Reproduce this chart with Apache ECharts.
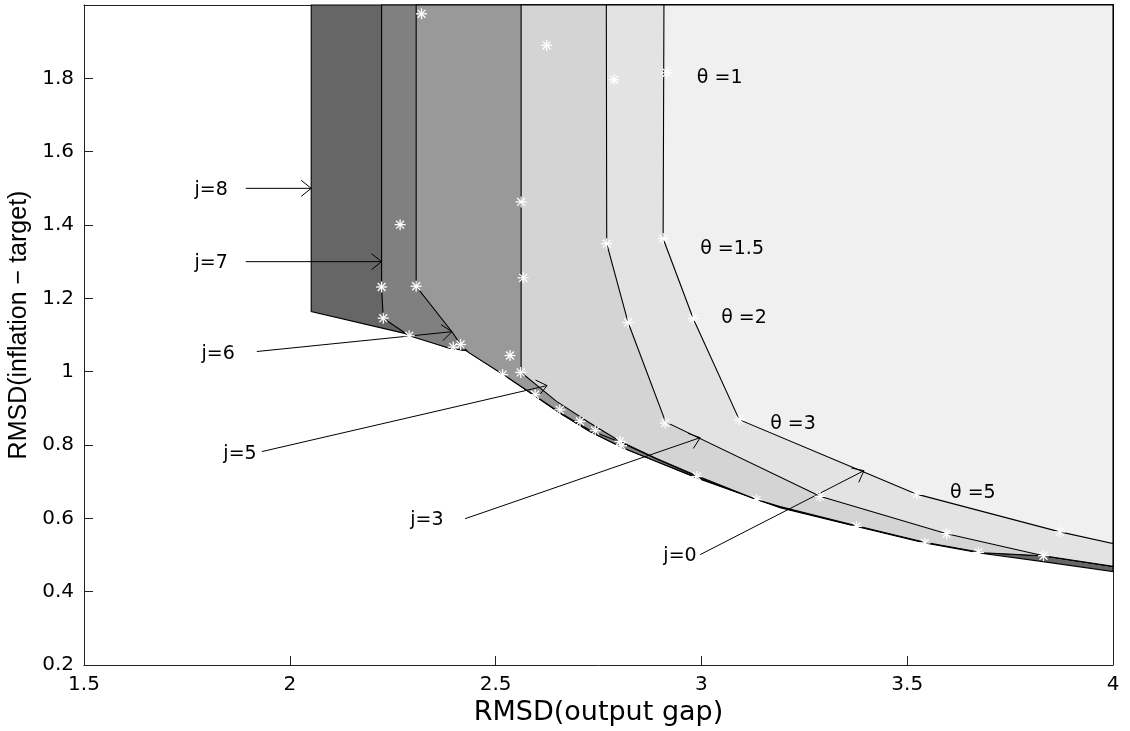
<!DOCTYPE html>
<html>
<head>
<meta charset="utf-8">
<script src="https://cdn.jsdelivr.net/npm/echarts@6/dist/echarts.min.js"></script>
<style>
  html, body { margin: 0; background: #fff; }
  #chart { width: 1130px; height: 731px; }
</style>
</head>
<body>
<div id="chart"></div>
<script>
// boundary of each shaded region: left edge from the top, then down along its curve to the right edge
const regionJ8 = [[2.052, 2.0], [2.052, 1.164], [2.292, 1.101], [2.384, 1.065], [2.430, 1.057], [2.519, 0.992], [2.592, 0.937], [2.656, 0.887], [2.729, 0.837], [2.810, 0.792], [2.891, 0.755], [2.989, 0.710], [3.191, 0.629], [3.377, 0.578], [3.543, 0.533], [3.684, 0.504], [3.830, 0.482], [4.0, 0.455]];
const regionJ7 = [[2.223, 2.0], [2.223, 1.231], [2.227, 1.146], [2.290, 1.098], [2.384, 1.065], [2.430, 1.057], [2.519, 0.992], [2.592, 0.937], [2.656, 0.887], [2.729, 0.837], [2.810, 0.792], [2.891, 0.755], [2.989, 0.711], [3.191, 0.630], [3.377, 0.579], [3.543, 0.534], [3.684, 0.506], [3.830, 0.498], [4.0, 0.469]];
const regionJ6 = [[2.307, 2.0], [2.307, 1.233], [2.394, 1.109], [2.415, 1.074], [2.435, 1.052], [2.519, 0.992], [2.592, 0.937], [2.656, 0.889], [2.729, 0.840], [2.802, 0.808], [2.891, 0.762], [2.989, 0.714], [3.191, 0.631], [3.377, 0.580], [3.543, 0.535], [3.684, 0.506], [3.830, 0.498], [4.0, 0.469]];
const regionJ5 = [[2.562, 2.0], [2.562, 0.998], [2.648, 0.919], [2.729, 0.860], [2.802, 0.810], [2.891, 0.763], [2.989, 0.716], [3.134, 0.651], [3.191, 0.632], [3.377, 0.580], [3.543, 0.535], [3.684, 0.506], [3.830, 0.498], [4.0, 0.469]];
const regionJ3 = [[2.769, 2.0], [2.770, 1.349], [2.822, 1.134], [2.913, 0.863], [3.288, 0.660], [3.596, 0.558], [3.831, 0.498], [4.0, 0.469]];
const regionJ0 = [[2.909, 2.0], [2.907, 1.363], [2.980, 1.145], [3.092, 0.869], [3.393, 0.727], [3.523, 0.666], [3.871, 0.563], [4.0, 0.531]];
const regionColors = ['#666666', '#808080', '#999999', '#d4d4d4', '#e3e3e3', '#f0f0f0'];

// simulated points (white asterisks)
const stars = [
  [2.320, 1.976], [2.624, 1.890], [2.788, 1.796], [2.916, 1.815], [2.562, 1.463], [2.268, 1.401],
  [2.567, 1.256], [2.223, 1.231], [2.307, 1.233], [2.227, 1.146], [2.290, 1.098], [2.415, 1.074],
  [2.397, 1.067], [2.535, 1.044], [2.561, 0.998], [2.517, 0.992], [2.596, 0.937], [2.656, 0.896],
  [2.705, 0.864], [2.742, 0.839], [2.802, 0.810], [2.806, 0.798], [2.912, 0.860], [2.989, 0.714],
  [2.770, 1.349], [2.907, 1.363], [2.822, 1.134], [2.980, 1.145], [3.092, 0.869], [3.288, 0.660],
  [3.523, 0.666], [3.377, 0.578], [3.596, 0.558], [3.543, 0.533], [3.673, 0.507], [3.831, 0.498],
  [3.871, 0.563], [3.134, 0.651]
];

// arrows: [fromX, fromY, toX, toY]
const arrows = [
  [1.893, 1.500, 2.052, 1.500],
  [1.893, 1.300, 2.223, 1.300],
  [1.920, 1.055, 2.394, 1.109],
  [1.932, 0.782, 2.625, 0.962],
  [2.426, 0.599, 2.997, 0.820],
  [2.997, 0.501, 3.395, 0.730]
];
const jLabels = ['j=8', 'j=7', 'j=6', 'j=5', 'j=3', 'j=0'];
const jLabelPos = [[1.809, 1.496], [1.809, 1.297], [1.826, 1.049], [1.879, 0.774], [2.333, 0.594], [2.948, 0.496]];
const thetaLabels = ['θ =1', 'θ =1.5', 'θ =2', 'θ =3', 'θ =5'];
const thetaLabelPos = [[2.989, 1.802], [2.997, 1.335], [3.048, 1.145], [3.167, 0.858], [3.604, 0.670]];

const regions = [regionJ8, regionJ7, regionJ6, regionJ5, regionJ3, regionJ0];
const FONT = 'DejaVu Sans';

const chart = echarts.init(document.getElementById('chart'), null, { renderer: 'canvas' });

const option = {
  animation: false,
  backgroundColor: '#ffffff',
  grid: { left: 84, right: 17, top: 5, bottom: 66, containLabel: false, outerBoundsMode: 'none' },
  xAxis: [
    {
      type: 'value', min: 1.5, max: 4, interval: 0.5,
      name: 'RMSD(output gap)', nameLocation: 'middle', nameGap: 31,
      nameTextStyle: { fontFamily: FONT, fontSize: 27, color: '#000' },
      axisLine: { show: true, lineStyle: { color: '#222', width: 1 } },
      axisTick: { show: true, inside: true, length: 9, lineStyle: { color: '#222' } },
      axisLabel: { fontFamily: FONT, fontSize: 20, color: '#000', margin: 10 },
      splitLine: { show: false }
    },
    {
      type: 'value', min: 1.5, max: 4, position: 'top',
      axisLine: { show: true, onZero: false, lineStyle: { color: '#222', width: 1 } },
      axisTick: { show: false }, axisLabel: { show: false }, splitLine: { show: false }
    }
  ],
  yAxis: [
    {
      type: 'value', min: 0.2, max: 2.0, interval: 0.2,
      name: 'RMSD(inflation − target)', nameLocation: 'middle', nameGap: 52, nameRotate: 90,
      nameTextStyle: { fontFamily: 'Liberation Sans', fontSize: 25, color: '#000', padding: [0, 0, 0, 20] },
      axisLine: { show: true, lineStyle: { color: '#222', width: 1 } },
      axisTick: { show: true, inside: true, length: 9, lineStyle: { color: '#222' } },
      axisLabel: { fontFamily: FONT, fontSize: 20, color: '#000', margin: 10, showMaxLabel: false },
      splitLine: { show: false }
    },
    {
      type: 'value', min: 0.2, max: 2.0, position: 'right',
      axisLine: { show: true, onZero: false, lineStyle: { color: '#222', width: 1 } },
      axisTick: { show: false }, axisLabel: { show: false }, splitLine: { show: false }
    }
  ],
  series: [
    {
      // shaded regions, darkest first
      type: 'custom',
      data: regions.map((r, i) => [r[0][0], r[0][1], i]),
      renderItem: function (params, api) {
        const idx = api.value(2);
        const pts = regions[idx].concat([[4.0, 2.0]]).map(p => api.coord(p));
        return {
          type: 'polygon',
          z2: idx,
          shape: { points: pts },
          style: { fill: regionColors[idx], stroke: '#000', lineWidth: 1.1 }
        };
      },
      z: 2
    },
    {
      // arrows
      type: 'custom',
      data: arrows,
      renderItem: function (params, api) {
        const p0 = api.coord([api.value(0), api.value(1)]);
        const p1 = api.coord([api.value(2), api.value(3)]);
        const dx = p1[0] - p0[0], dy = p1[1] - p0[1];
        const len = Math.sqrt(dx * dx + dy * dy);
        const ux = dx / len, uy = dy / len;
        const bx = p1[0] - ux * 10, by = p1[1] - uy * 10;
        const w = 8;
        return {
          type: 'group',
          children: [
            { type: 'line', shape: { x1: p0[0], y1: p0[1], x2: p1[0], y2: p1[1] }, style: { stroke: '#000', lineWidth: 1 } },
            { type: 'polyline', shape: { points: [[bx - uy * w, by + ux * w], p1, [bx + uy * w, by - ux * w]] }, style: { stroke: '#000', fill: null, lineWidth: 1 } }
          ]
        };
      },
      z: 4
    },
    {
      // white asterisks
      type: 'custom',
      data: stars,
      renderItem: function (params, api) {
        const c = api.coord([api.value(0), api.value(1)]);
        const r = 5.5, d = r * 0.72;
        const st = { stroke: '#ffffff', lineWidth: 1.3 };
        return {
          type: 'group',
          children: [
            { type: 'line', shape: { x1: c[0] - r, y1: c[1], x2: c[0] + r, y2: c[1] }, style: st },
            { type: 'line', shape: { x1: c[0], y1: c[1] - r, x2: c[0], y2: c[1] + r }, style: st },
            { type: 'line', shape: { x1: c[0] - d, y1: c[1] - d, x2: c[0] + d, y2: c[1] + d }, style: st },
            { type: 'line', shape: { x1: c[0] - d, y1: c[1] + d, x2: c[0] + d, y2: c[1] - d }, style: st }
          ]
        };
      },
      z: 5
    },
    {
      // j labels
      type: 'custom',
      data: jLabelPos.map((p, i) => [p[0], p[1], i]),
      renderItem: function (params, api) {
        const c = api.coord([api.value(0), api.value(1)]);
        return {
          type: 'text', x: c[0], y: c[1],
          style: { text: jLabels[api.value(2)], fill: '#000', fontFamily: FONT, fontSize: 19, align: 'center', verticalAlign: 'middle' }
        };
      },
      z: 6
    },
    {
      // theta labels
      type: 'custom',
      data: thetaLabelPos.map((p, i) => [p[0], p[1], i]),
      renderItem: function (params, api) {
        const c = api.coord([api.value(0), api.value(1)]);
        return {
          type: 'text', x: c[0], y: c[1],
          style: { text: thetaLabels[api.value(2)], fill: '#000', fontFamily: FONT, fontSize: 19, align: 'left', verticalAlign: 'middle' }
        };
      },
      z: 6
    }
  ]
};

chart.setOption(option);
</script>
</body>
</html>
